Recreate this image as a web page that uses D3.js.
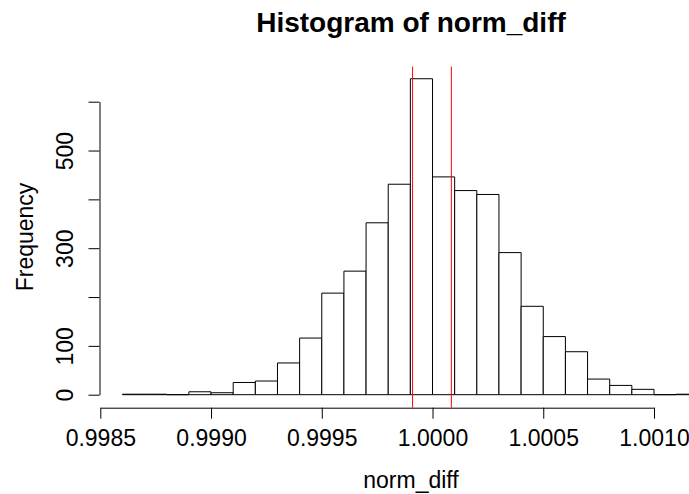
<!DOCTYPE html>
<html>
<head>
<meta charset="utf-8">
<script src="https://cdn.jsdelivr.net/npm/d3@7"></script>
<style>
  body { margin: 0; background: #fff; }
  text { font-family: "Liberation Sans", Arial, sans-serif; }
</style>
</head>
<body>
<svg id="chart"></svg>
<script>
const outerWidth = 689;
const outerHeight = 494;

// histogram bins (left edge of each bin, width 0.0001) and counts
const binStarts = [0.9986, 0.9987, 0.9988, 0.9989, 0.9990, 0.9991, 0.9992, 0.9993, 0.9994,
  0.9995, 0.9996, 0.9997, 0.9998, 0.9999, 1.0000, 1.0001, 1.0002, 1.0003, 1.0004,
  1.0005, 1.0006, 1.0007, 1.0008, 1.0009, 1.0010, 1.0011];
const counts = [1, 1, 0, 6, 4, 25, 28, 65, 116, 208, 253, 352, 431, 647, 446, 418, 410,
  291, 181, 119, 88, 32, 19, 11, 0, 1];
const binWidth = 0.0001;

// vertical reference lines
const refLines = [0.99991, 1.000085];

const xTicks = [0.9985, 0.9990, 0.9995, 1.0000, 1.0005, 1.0010];
const yTicks = [0, 100, 200, 300, 400, 500, 600];
const yLabels = [0, 100, 300, 500];

const plotTop = 66.6, plotBottom = 407.6;

var svg = d3.select("#chart")
  .attr("width", outerWidth)
  .attr("height", outerHeight);

var x = d3.scaleLinear().domain([0.9985, 1.0010]).range([100.3, 654]);
var y = d3.scaleLinear().domain([0, 600]).range([394.7, 101.7]);

// bars (paths so that empty bins still show as a flat line)
svg.append("g").selectAll("path")
  .data(binStarts)
  .enter()
  .append("path")
  .attr("d", (d, i) => {
    var p = d3.path();
    p.moveTo(x(d), y(0));
    p.lineTo(x(d), y(counts[i]));
    p.lineTo(x(d + binWidth), y(counts[i]));
    p.lineTo(x(d + binWidth), y(0));
    p.closePath();
    return p.toString();
  })
  .style("fill", "white")
  .style("stroke", "black")
  .style("stroke-width", 1);

// red lines
svg.append("g").selectAll("line")
  .data(refLines)
  .enter()
  .append("line")
  .attr("x1", d => x(d)).attr("x2", d => x(d))
  .attr("y1", plotTop).attr("y2", plotBottom)
  .style("stroke", "#ff0000")
  .style("stroke-width", 1);

// x axis
var xAxis = svg.append("g")
  .attr("transform", "translate(0," + 407.7 + ")")
  .call(d3.axisBottom(x).tickValues(xTicks).tickSize(11).tickSizeOuter(0)
    .tickFormat(d3.format(".4f")));
xAxis.selectAll("text")
  .attr("y", 38.8).attr("dy", 0)
  .style("font-size", "23px").style("fill", "black");
xAxis.selectAll("path, line").style("stroke", "black");

// y axis
var yAxis = svg.append("g")
  .attr("transform", "translate(99.5,0)")
  .call(d3.axisLeft(y).tickValues(yTicks).tickSize(11).tickSizeOuter(0)
    .tickFormat(d => yLabels.includes(d) ? d : ""));
yAxis.selectAll("text")
  .attr("x", 0).attr("dy", 0)
  .attr("text-anchor", "middle")
  .attr("transform", "translate(-26.5,0) rotate(-90)")
  .style("font-size", "23px").style("fill", "black");
yAxis.selectAll("path, line").style("stroke", "black");

// title & labels
svg.append("text")
  .attr("x", 411).attr("y", 32)
  .attr("text-anchor", "middle")
  .style("font-size", "28px").style("font-weight", "bold")
  .text("Histogram of norm_diff");

svg.append("text")
  .attr("x", 411).attr("y", 488)
  .attr("text-anchor", "middle")
  .style("font-size", "23px")
  .text("norm_diff");

svg.append("text")
  .attr("transform", "translate(33,237) rotate(-90)")
  .attr("text-anchor", "middle")
  .style("font-size", "23px")
  .text("Frequency");
</script>
</body>
</html>
